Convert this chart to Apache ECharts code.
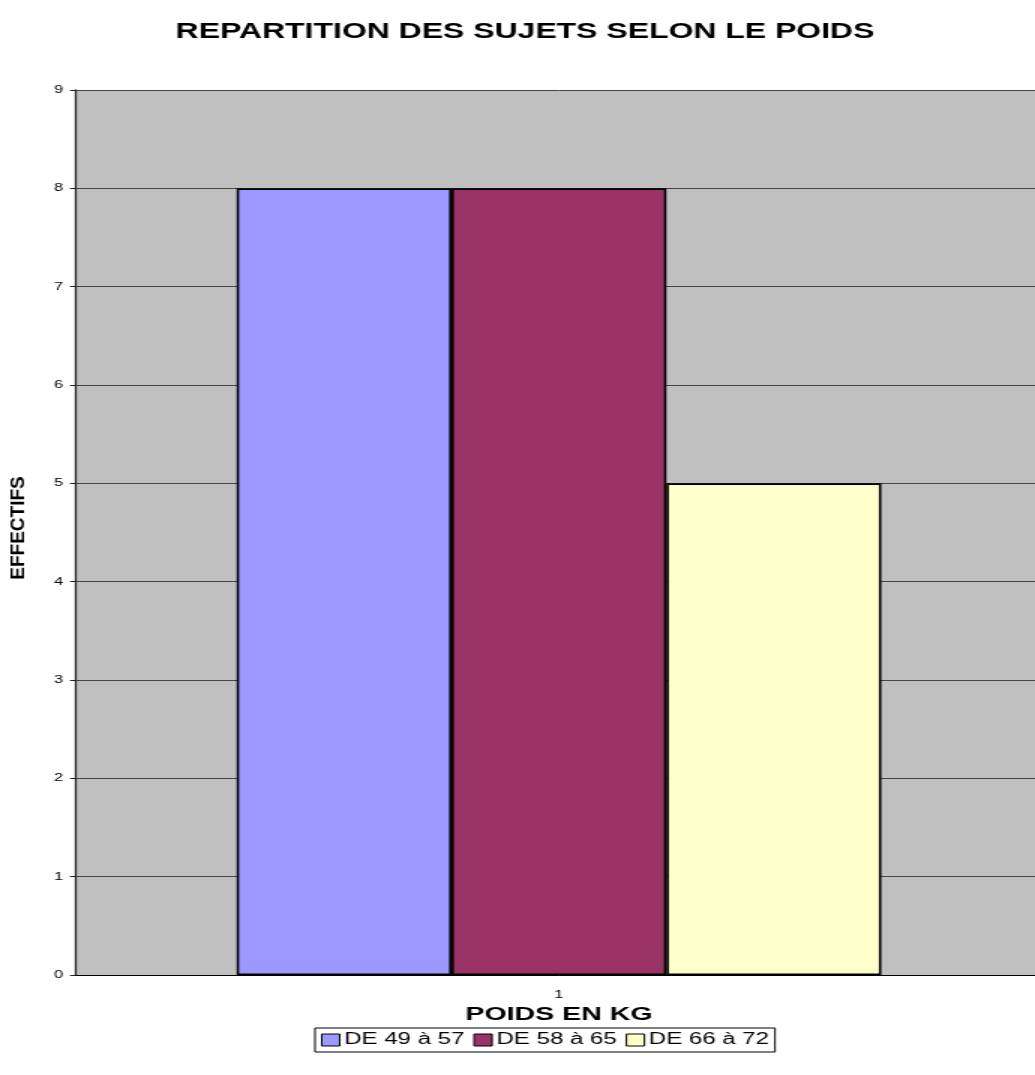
<!DOCTYPE html>
<html>
<head>
<meta charset="utf-8">
<script src="https://cdn.jsdelivr.net/npm/echarts@6/dist/echarts.min.js"></script>
<style>
  html, body { margin: 0; padding: 0; background: #fff; overflow: hidden; }
  #wrap { width: 1035px; height: 1075px; overflow: hidden; }
  /* the chart is laid out narrow and widened 1.5x, like the spreadsheet export it comes from;
     the plot area runs slightly past the right edge of the page */
  #chart { width: 700px; height: 1075px; transform: scaleX(1.5); transform-origin: 0 0; }
</style>
</head>
<body>
<div id="wrap"><div id="chart"></div></div>
<script>
// Weight classes (kg) and number of subjects in each
const categories = ['1'];
const seriesNames = ['DE 49 à 57', 'DE 58 à 65', 'DE 66 à 72'];
const values49to57 = [8];
const values58to65 = [8];
const values66to72 = [5];
const seriesColors = ['#9999ff', '#993366', '#ffffcc'];

const seriesValues = [values49to57, values58to65, values66to72];
const font = 'Arial, "Liberation Sans", sans-serif';
const STRETCH = 1.5;

const chart = echarts.init(document.getElementById('chart'));
chart.setOption({
  animation: false,
  backgroundColor: '#ffffff',
  title: {
    text: 'REPARTITION DES SUJETS SELON LE POIDS',
    left: 345, top: 17, textAlign: 'center',
    textStyle: { fontFamily: font, fontWeight: 'bold', fontSize: 21.3, color: '#000' }
  },
  legend: {
    data: seriesNames,
    left: 210, top: 1028,
    orient: 'horizontal',
    padding: [4, 4, 4, 4],
    borderColor: '#000', borderWidth: 1,
    itemWidth: 12, itemHeight: 12, itemGap: 6,
    icon: 'rect',
    itemStyle: { borderColor: '#000', borderWidth: 1 },
    textStyle: { fontFamily: font, fontSize: 16, color: '#000', padding: [0, 0, 0, -2] }
  },
  grid: {
    left: 50, top: 90, width: 645.3, height: 885,
    show: true, backgroundColor: '#c0c0c0', borderWidth: 0
  },
  graphic: [{
    type: 'text',
    x: 12.3, y: 528,
    rotation: Math.PI / 2,
    scaleY: 1 / STRETCH,
    style: {
      text: 'EFFECTIFS',
      font: 'bold 19px Arial, "Liberation Sans", sans-serif',
      fill: '#000',
      textAlign: 'center', textVerticalAlign: 'middle',
      align: 'center', verticalAlign: 'middle'
    }
  }],
  xAxis: {
    type: 'category',
    data: categories,
    name: 'POIDS EN KG',
    nameLocation: 'middle',
    nameGap: 30,
    nameTextStyle: { fontFamily: font, fontWeight: 'bold', fontSize: 19, color: '#000' },
    axisLine: { lineStyle: { color: '#000', width: 1 } },
    axisTick: { show: false },
    axisLabel: { fontFamily: font, fontSize: 11, color: '#000', margin: 14 }
  },
  yAxis: {
    type: 'value',
    min: 0, max: 9, interval: 1,
    axisLine: { show: true, lineStyle: { color: '#222', width: 1.3 } },
    axisTick: { show: true, length: 3.3, lineStyle: { color: '#222', width: 1 } },
    axisLabel: { fontFamily: font, fontSize: 11, color: '#000', margin: 8 },
    splitLine: { lineStyle: { color: '#444', width: 1 } }
  },
  series: seriesNames.map((name, i) => ({
    name: name,
    type: 'bar',
    data: seriesValues[i],
    barGap: '0%',
    barCategoryGap: '33.4%',
    itemStyle: { color: seriesColors[i], borderColor: '#000', borderWidth: 1.6 }
  }))
});
</script>
</body>
</html>
